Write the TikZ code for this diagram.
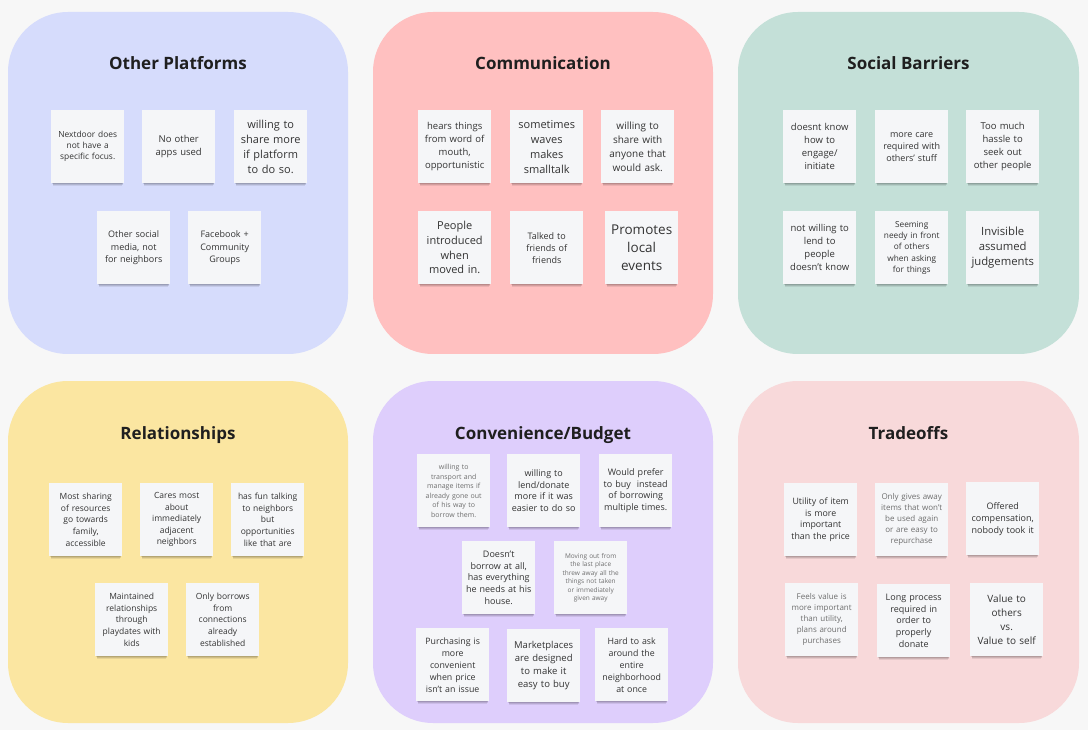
\documentclass[tikz,border=0pt]{standalone}
\usepackage{fontspec}
\setmainfont{Open Sans}
\usetikzlibrary{shadows}
\definecolor{bgc}{HTML}{F7F7F7}
\definecolor{pA}{RGB}{214,220,252}
\definecolor{pB}{RGB}{255,192,192}
\definecolor{pC}{RGB}{196,224,216}
\definecolor{pD}{RGB}{251,230,161}
\definecolor{pE}{RGB}{222,206,252}
\definecolor{pF}{RGB}{248,217,218}
\definecolor{notec}{HTML}{F5F6F8}
\definecolor{notetext}{HTML}{333333}
\definecolor{notegray}{HTML}{6E6E6E}
\definecolor{titlec}{HTML}{1F1F1F}
\tikzset{
  panel/.style={rounded corners=60pt},
  paneltitle/.style={font=\fontsize{17}{20}\selectfont\bfseries, text=titlec, inner sep=0pt, anchor=base},
  sticky/.style={anchor=north west, minimum width=73pt, minimum height=73pt, inner sep=0pt,
    text width=72pt, fill=notec, align=center, text=notetext,
    general shadow={shadow xshift=0pt, shadow yshift=-5pt, shadow scale=0.94, opacity=0.08, fill=black},
    general shadow={shadow xshift=0pt, shadow yshift=-3.5pt, shadow scale=0.96, opacity=0.10, fill=black},
    general shadow={shadow xshift=0pt, shadow yshift=-2pt, shadow scale=0.98, opacity=0.12, fill=black}},
  grayt/.style={text=notegray},
}
\newcommand\sticky[7][]{\node[sticky,font=\fontsize{#5}{#6}\selectfont,#1] (#2) at (#3,#4) {#7};}
\begin{document}
\begin{tikzpicture}[x=1pt,y=-1pt]
\useasboundingbox (0,0) rectangle (1088,730);
\fill[bgc] (0,0) rectangle (1088,730);
% panels
\fill[pA,panel] (8,12) rectangle (348,354);
\fill[pB,panel] (373,12) rectangle (713,354);
\fill[pC,panel] (738,12) rectangle (1079,354);
\fill[pD,panel] (8,381) rectangle (348,723);
\fill[pE,panel] (373,381) rectangle (713,723);
\fill[pF,panel] (738,381) rectangle (1079,723);
% titles
\node[paneltitle] (tA) at (178,70) {Other Platforms};
\node[paneltitle] (tB) at (543,70) {Communication};
\node[paneltitle] (tC) at (908.5,70) {Social Barriers};
\node[paneltitle] (tD) at (178,439) {Relationships};
\node[paneltitle] (tE) at (543,439) {Convenience/Budget};
\node[paneltitle] (tF) at (908.5,439) {Tradeoffs};
% Other Platforms
\sticky{o1}{51}{110}{8.4}{11}{Nextdoor does\\not have a\\specific focus.}
\sticky{o2}{142}{110}{9.5}{13}{No other\\apps used}
\sticky{o3}{234}{110}{11}{15}{willing to\\share more\\if platform\\to do so.}
\sticky{o4}{97}{211}{9}{12.3}{Other social\\media, not\\for neighbors}
\sticky{o5}{188}{211}{9}{12.3}{Facebook +\\Community\\Groups}
% Communication
\sticky{c1}{418}{110}{9.5}{13}{hears things\\from word of\\mouth,\\opportunistic}
\sticky{c2}{510}{110}{11}{15}{sometimes\\waves\\makes\\smalltalk}
\sticky{c3}{601}{110}{10}{14}{willing to\\share with\\anyone that\\would ask.}
\sticky{c4}{418}{211}{11}{14.8}{People\\introduced\\when\\moved in.}
\sticky{c5}{510}{211}{9}{12}{Talked to\\friends of\\friends}
\sticky{c6}{605}{211}{13.5}{18.3}{Promotes\\local\\events}
% Social Barriers
\sticky{s1}{783}{110}{9.5}{13}{doesnt know\\how to\\engage/\\initiate}
\sticky{s2}{875}{110}{9}{12}{more care\\required with\\others' stuff}
\sticky{s3}{966}{110}{9.5}{13}{Too much\\hassle to\\seek out\\other people}
\sticky{s4}{783}{211}{9.5}{13}{not willing to\\lend to\\people\\doesn’t know}
\sticky{s5}{875}{211}{8.3}{11.3}{Seeming\\needy in front\\of others\\when asking\\for things}
\sticky{s6}{966}{211}{11.3}{15.3}{Invisible\\assumed\\judgements}
% Relationships
\sticky{r1}{49}{483}{8.5}{11.6}{Most sharing\\of resources\\go towards\\family,\\accessible}
\sticky{r2}{140}{483}{8.5}{11.6}{Cares most\\about\\immediately\\adjacent\\neighbors}
\sticky{r3}{231}{483}{8.5}{11.6}{has fun talking\\to neighbors\\but\\opportunities\\like that are}
\sticky{r4}{95}{583}{8.5}{11.6}{Maintained\\relationships\\through\\playdates with\\kids}
\sticky{r5}{186}{583}{8.5}{11.6}{Only borrows\\from\\connections\\already\\established}
% Convenience/Budget
\sticky[grayt]{v1}{417}{454}{7}{9.5}{willing to\\transport and\\manage items if\\already gone out\\of his way to\\borrow them.}
\sticky{v2}{507}{454}{9}{11.7}{willing to\\lend/donate\\more if it was\\easier to do so}
\sticky{v3}{599}{454}{9}{11.7}{Would prefer\\to buy\ \ instead\\of borrowing\\multiple times.}
\sticky{v4}{462}{541}{9}{11.7}{Doesn’t\\borrow at all,\\has everything\\he needs at his\\house.}
\sticky[grayt]{v5}{554}{541}{6.5}{8.5}{Moving out from\\the last place\\threw away all the\\things not taken\\or immediately\\given away}
\sticky{v6}{416}{628}{8.8}{12}{Purchasing is\\more\\convenient\\when price\\isn't an issue}
\sticky{v7}{507}{629}{9.5}{13}{Marketplaces\\are designed\\to make it\\easy to buy}
\sticky{v8}{595}{628}{8.8}{12}{Hard to ask\\around the\\entire\\neighborhood\\at once}
% Tradeoffs
\sticky{f1}{784}{483}{8.8}{11.5}{Utility of item\\is more\\important\\than the price}
\sticky[grayt]{f2}{875}{483}{8}{11}{Only gives away\\items that won’t\\be used again\\or are easy to\\repurchase}
\sticky{f3}{966}{482}{9}{12}{Offered\\compensation,\\nobody took it}
\sticky[grayt]{f4}{785}{583}{8}{11}{Feels value is\\more important\\than utility,\\plans around\\purchases}
\sticky{f5}{877}{584}{9}{11.8}{Long process\\required in\\order to\\properly\\donate}
\sticky{f6}{970}{583}{10}{14}{Value to\\others\\vs.\\Value to self}
\end{tikzpicture}
\end{document}
